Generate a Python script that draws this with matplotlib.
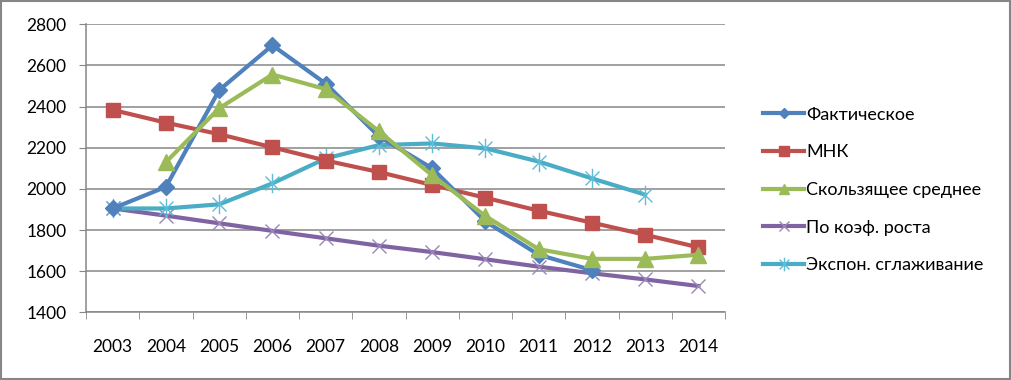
import numpy as np
import matplotlib
matplotlib.use('Agg')
import matplotlib.pyplot as plt
from matplotlib.patches import Rectangle
from matplotlib.path import Path

plt.rcParams['font.family'] = ['Lato', 'DejaVu Sans']

years = ['2003', '2004', '2005', '2006', '2007', '2008', '2009', '2010', '2011', '2012', '2013', '2014']
nan = np.nan
fact = [1905, 2010, 2480, 2698, 2512, 2255, 2100, 1842, 1680, 1605, nan, nan]
mnk = [2384, 2322, 2266, 2202, 2138, 2082, 2019, 1957, 1894, 1836, 1777, 1716]
moving = [nan, 2130, 2392, 2556, 2485, 2280, 2066, 1868, 1707, 1660, 1660, 1680]
growth = [1905, 1870, 1833, 1796, 1760, 1724, 1693, 1658, 1622, 1590, 1560, 1528]
expon = [1905, 1905, 1925, 2027, 2148, 2213, 2221, 2197, 2133, 2051, 1972, nan]

labels = ['Фактическое', 'МНК', 'Скользящее среднее', 'По коэф. роста', 'Экспон. сглаживание']

# excel style "star" marker: x plus a vertical bar
star = Path([(-0.5, -0.5), (0.5, 0.5), (-0.5, 0.5), (0.5, -0.5), (0, -0.7), (0, 0.7)],
            [Path.MOVETO, Path.LINETO, Path.MOVETO, Path.LINETO, Path.MOVETO, Path.LINETO])

fig = plt.figure(figsize=(10.12, 3.8), dpi=100)
ax = fig.add_axes([0.085, 0.178, 0.6315, 0.758])

x = np.arange(len(years))
lw = 3
ax.plot(x, fact, color='#4F81BD', lw=lw, marker='D', ms=7.8, label=labels[0], zorder=5)
ax.plot(x, mnk, color='#C0504D', lw=lw, marker='s', ms=10.5, label=labels[1], zorder=4)
ax.plot(x, moving, color='#9BBB59', lw=lw, marker='^', ms=11, label=labels[2], zorder=6)
ax.plot(x, growth, color='#8064A2', lw=lw, marker='x', ms=10, mew=1.0, mec='#9A86B8',
        label=labels[3], zorder=3)
ax.plot(x, expon, color='#4BACC6', lw=lw, marker=star, ms=14, mew=1.0, mec='#5FBCD6',
        label=labels[4], zorder=3)

ax.set_xlim(-0.5, len(years) - 0.5)
ax.set_ylim(1400, 2800)
ax.set_yticks(np.arange(1400, 2801, 200))
ax.set_xticks(x)
ax.set_xticklabels(years)
ax.set_xticks(np.arange(-0.5, len(years)), minor=True)
ax.grid(axis='y', color='#868686', lw=1.1)
ax.set_axisbelow(True)

for s in ['top', 'right']:
    ax.spines[s].set_visible(False)
for s in ['left', 'bottom']:
    ax.spines[s].set_color('#868686')
    ax.spines[s].set_linewidth(1.1)

ax.tick_params(axis='y', labelsize=12.5, length=5, color='#868686', pad=9)
ax.tick_params(axis='x', which='major', labelsize=12.5, length=0, pad=19)
ax.tick_params(axis='x', which='minor', length=5, color='#868686')

ax.legend(loc='center left', bbox_to_anchor=(0.745, 0.5), bbox_transform=fig.transFigure,
          frameon=False, fontsize=13, handlelength=2.3, handletextpad=0.1,
          labelspacing=1.2, borderpad=0, markerscale=0.7)

fig.patches.append(Rectangle((0.001, 0.002), 0.997, 0.996, transform=fig.transFigure,
                             fill=False, edgecolor='#868686', lw=1.5))

plt.savefig('out.png', dpi=100)
